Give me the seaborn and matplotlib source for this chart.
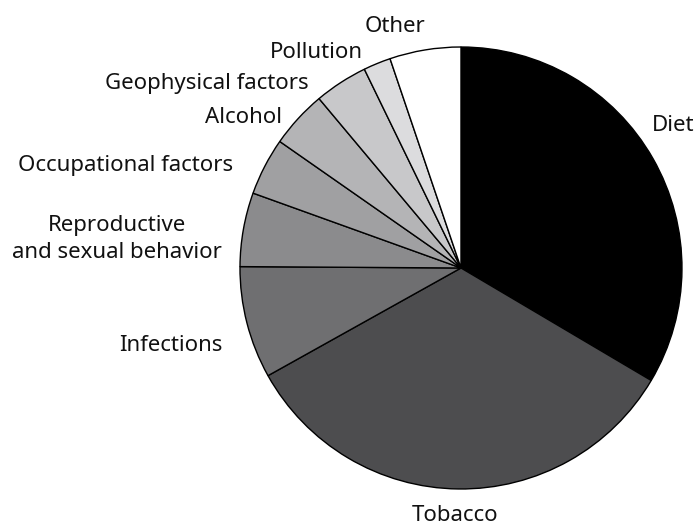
import matplotlib
matplotlib.use("Agg")
import matplotlib.pyplot as plt
import seaborn as sns

# share of cancer deaths by cause (percent), clockwise from 12 o'clock
causes = ["Diet", "Tobacco", "Infections", "Reproductive\nand sexual behavior",
          "Occupational factors", "Alcohol", "Geophysical factors",
          "Pollution", "Other"]
shares = [33.5, 33.4, 8.2, 5.4, 4.2, 4.2, 3.9, 2.0, 5.2]

greys = ["#000000", "#4d4d4f", "#6f6f71", "#8b8b8d", "#a0a0a2",
         "#b4b4b6", "#c8c8ca", "#dcdcde", "#ffffff"]

# label anchors in pie units (radius = 1): x, y, horizontal align, vertical align
label_pos = [(0.864, 0.620, "left", "baseline"),
             (-0.027, -1.145, "center", "baseline"),
             (-1.077, -0.376, "right", "baseline"),
             (-1.557, 0.131, "center", "center"),
             (-1.032, 0.439, "right", "baseline"),
             (-0.810, 0.656, "right", "baseline"),
             (-0.688, 0.810, "right", "baseline"),
             (-0.443, 0.950, "right", "baseline"),
             (-0.299, 1.068, "center", "baseline")]

sns.set_theme(style="white")
plt.rcParams["font.family"] = ["Noto Sans", "DejaVu Sans"]

fig = plt.figure(figsize=(6.97, 5.25), dpi=100)
ax = fig.add_axes([0, 0, 1, 1])

ax.pie(shares, colors=greys, startangle=90, counterclock=False,
       radius=1.0, wedgeprops=dict(edgecolor="black", linewidth=1.0))

for name, (x, y, ha, va) in zip(causes, label_pos):
    ax.text(x, y, name, ha=ha, va=va, fontsize=16,
            multialignment="center", color="#111111", linespacing=1.4)

ax.set_xlim(-2.086, 1.068)
ax.set_ylim(-1.163, 1.2127)
ax.set_aspect("auto")
ax.axis("off")

fig.savefig("out.png", dpi=100, facecolor="white")
